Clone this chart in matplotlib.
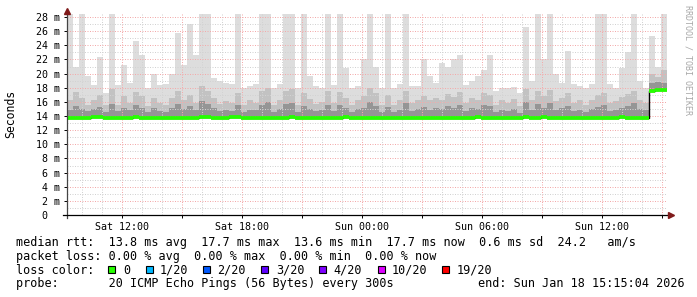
import matplotlib
matplotlib.use("Agg")
import matplotlib.pyplot as plt
import matplotlib.dates as mdates
from matplotlib.patches import Rectangle
from matplotlib.ticker import MultipleLocator, FuncFormatter
import numpy as np
import pandas as pd

plt.rcParams['font.family'] = ['DejaVu Sans Mono']

# 30 hour window, one smoke column per 18 minutes
start = pd.Timestamp("2026-01-17 09:15:04")
end = pd.Timestamp("2026-01-18 15:15:04")
step = pd.Timedelta(minutes=18)

# top of the lightest smoke (max ping), ms
light_top = [28.4, 21.0, 28.4, 19.6, 18.4, 22.4, 17.2, 28.4, 18.4, 21.2,
             18.7, 24.6, 22.7, 18.0, 20.0, 18.4, 18.5, 20.0, 25.7, 21.2,
             27.0, 22.7, 28.4, 28.4, 19.4, 19.0, 18.7, 18.5, 28.4, 18.0,
             18.2, 18.5, 28.4, 28.4, 18.0, 18.5, 28.4, 28.4, 18.0, 28.4,
             19.6, 18.2, 18.0, 28.4, 18.4, 28.4, 20.8, 18.0, 18.3, 22.0,
             28.4, 21.0, 18.0, 28.4, 18.0, 18.5, 28.4, 18.3, 18.2, 22.0,
             19.6, 18.7, 21.5, 21.0, 22.0, 22.7, 18.4, 18.9, 19.6, 20.5,
             22.7, 17.5, 18.0, 18.0, 18.1, 17.2, 26.6, 19.0, 28.4, 22.0,
             28.4, 20.0, 18.6, 23.2, 18.5, 18.2, 18.0, 18.5, 28.4, 28.4,
             18.5, 18.0, 20.8, 23.0, 28.4, 19.0, 18.0, 25.3, 21.0, 28.4]

# top of the medium grey smoke
mid_top = [16.2, 17.4, 16.5, 15.6, 16.3, 17.0, 15.5, 17.8, 15.6, 16.9,
           15.8, 17.4, 16.8, 15.4, 16.6, 15.9, 15.6, 16.5, 17.6, 16.2,
           17.0, 15.8, 18.2, 17.6, 16.6, 15.7, 16.1, 15.8, 17.3, 15.5,
           16.2, 15.9, 17.5, 18.0, 15.6, 16.3, 17.5, 17.8, 15.6, 17.2,
           16.4, 15.7, 16.0, 17.5, 15.8, 17.4, 16.6, 15.5, 16.3, 16.8,
           18.0, 17.2, 15.6, 17.0, 15.5, 16.2, 17.6, 15.8, 16.3, 16.9,
           16.2, 16.6, 16.3, 17.1, 16.7, 17.4, 15.8, 16.6, 16.3, 17.2,
           17.0, 15.6, 16.2, 15.8, 16.4, 15.4, 17.8, 16.2, 17.6, 16.8,
           17.7, 16.1, 16.5, 17.2, 15.8, 16.2, 15.6, 16.3, 17.0, 17.3,
           15.8, 16.1, 16.7, 17.1, 17.6, 16.2, 15.9, 20.0, 19.5, 20.5]

# top of the dark smoke near the median
dark_top = [14.9, 15.4, 15.0, 14.7, 15.0, 15.3, 14.6, 15.7, 14.7, 15.2,
            14.8, 15.6, 15.2, 14.5, 15.1, 14.7, 14.6, 15.1, 15.7, 15.0,
            15.4, 14.8, 16.1, 15.7, 15.1, 14.7, 14.9, 14.7, 15.5, 14.5,
            14.9, 14.8, 15.6, 16.0, 14.6, 15.0, 15.7, 15.8, 14.5, 15.4,
            15.0, 14.7, 14.8, 15.6, 14.7, 15.6, 15.1, 14.5, 15.0, 15.2,
            16.0, 15.4, 14.6, 15.3, 14.5, 14.9, 15.8, 14.7, 15.0, 15.3,
            14.9, 15.1, 15.0, 15.4, 15.2, 15.6, 14.7, 15.1, 15.0, 15.5,
            15.4, 14.5, 14.9, 14.7, 15.0, 14.4, 16.0, 14.9, 15.7, 15.2,
            15.8, 14.9, 15.1, 15.4, 14.7, 14.9, 14.5, 15.0, 15.3, 15.5,
            14.7, 14.9, 15.2, 15.4, 15.8, 15.0, 14.8, 18.6, 18.8, 18.7]

median_rtt = [13.7, 13.7, 13.7, 13.7, 13.8, 13.9, 13.7, 13.7, 13.7, 13.7,
              13.7, 13.8, 13.7, 13.7, 13.7, 13.7, 13.7, 13.7, 13.7, 13.7,
              13.7, 13.7, 13.9, 13.8, 13.7, 13.7, 13.7, 13.8, 13.8, 13.7,
              13.7, 13.7, 13.7, 13.7, 13.7, 13.7, 13.7, 13.8, 13.7, 13.7,
              13.7, 13.7, 13.7, 13.7, 13.7, 13.7, 13.8, 13.7, 13.7, 13.7,
              13.7, 13.7, 13.7, 13.7, 13.7, 13.7, 13.7, 13.7, 13.7, 13.7,
              13.7, 13.7, 13.7, 13.7, 13.7, 13.7, 13.7, 13.7, 13.8, 13.7,
              13.7, 13.7, 13.7, 13.7, 13.7, 13.7, 13.8, 13.7, 13.7, 13.8,
              13.7, 13.7, 13.7, 13.7, 13.7, 13.7, 13.7, 13.7, 13.7, 13.7,
              13.7, 13.7, 13.8, 13.7, 13.7, 13.7, 13.7, 17.6, 17.7, 17.7]

loss_labels = ['0', '1/20', '2/20', '3/20', '4/20', '10/20', '19/20']
loss_colors = ['#26ff00', '#00b8ff', '#0059ff', '#5e00ff', '#7e00ff', '#dd00ff', '#ff0000']

stats_lines = [
    "median rtt:  13.8 ms avg  17.7 ms max  13.6 ms min  17.7 ms now  0.6 ms sd  24.2   am/s",
    "packet loss: 0.00 % avg  0.00 % max  0.00 % min  0.00 % now",
]
probe_text = "probe:       20 ICMP Echo Pings (56 Bytes) every 300s"
end_text = "end: Sun Jan 18 15:15:04 2026"

W, H = 697, 297
fig = plt.figure(figsize=(W / 100, H / 100), dpi=100)
ax = fig.add_axes([67 / W, 82 / H, 600 / W, 202 / H])

times = pd.date_range(start, periods=len(median_rtt), freq=step)
x = mdates.date2num(times)
w = step / pd.Timedelta(days=1)
med = np.array(median_rtt)

# smoke layers
ax.bar(x, np.array(light_top) - med, bottom=med, width=w, align='edge', color='#dddddd', lw=0, zorder=1)
ax.bar(x, np.array(mid_top) - med, bottom=med, width=w, align='edge', color='#c2c2c2', lw=0, zorder=1)
ax.bar(x, np.array(dark_top) - med, bottom=med, width=w, align='edge', color='#959595', lw=0, zorder=1)

# median line: black steps under green horizontal pieces
ax.step(np.append(x, x[-1] + w), np.append(med, med[-1]), where='post', color='black', lw=1.0, zorder=3)
ax.hlines(med, x, x + w, colors=loss_colors[0], lw=2.7, zorder=4)

ax.set_xlim(mdates.date2num(start), mdates.date2num(end))
ax.set_ylim(0, 28.57)

ax.xaxis.set_major_locator(mdates.HourLocator(byhour=range(0, 24, 3)))
ax.xaxis.set_minor_locator(mdates.HourLocator())


def xfmt(v, pos):
    d = mdates.num2date(v)
    return d.strftime('%a %H:%M') if d.hour % 6 == 0 else ''


ax.xaxis.set_major_formatter(FuncFormatter(xfmt))
ax.yaxis.set_major_locator(MultipleLocator(2))
ax.yaxis.set_minor_locator(MultipleLocator(1))
ax.yaxis.set_major_formatter(FuncFormatter(lambda v, p: '0  ' if v == 0 else f'{v:.0f} m'))

ax.set_axisbelow(False)
ax.grid(which='minor', color='#d2d2d2', linestyle=(0, (1, 1.5)), linewidth=0.72)
ax.grid(which='major', color='#f3aaaa', linestyle=(0, (1, 1.5)), linewidth=0.72)

ax.tick_params(axis='both', which='major', labelsize=7.2, length=2, width=0.7, color='black')
ax.tick_params(axis='x', which='major', pad=3)
ax.tick_params(axis='y', which='major', pad=3)
ax.tick_params(which='minor', length=0)

for s in ax.spines.values():
    s.set_visible(False)

# axis lines with arrow heads
ax.plot([0, 0], [-0.015, 1.01], transform=ax.transAxes, color='#444444', lw=0.9, clip_on=False, zorder=5)
ax.plot([-0.007, 1.0], [0, 0], transform=ax.transAxes, color='black', lw=0.9, clip_on=False, zorder=5)
ax.plot([0], [1.012], marker='^', ms=3.8, color='#7f1a1a', transform=ax.transAxes, clip_on=False, zorder=6)
ax.plot([1.006], [0], marker='>', ms=3.8, color='#7f1a1a', transform=ax.transAxes, clip_on=False, zorder=6)

fig.text(11 / W, 1 - 114 / H, 'Seconds', rotation=90, ha='center', va='center', fontsize=8.3)
fig.text(688 / W, 1 - 5 / H, 'RRDTOOL / TOBI OETIKER', rotation=270, ha='center', va='top',
         fontsize=6, color='#a8a8a8')

# legend block
fs = 8.5
fig.text(16 / W, 1 - 246 / H, stats_lines[0], fontsize=fs, va='baseline')
fig.text(16 / W, 1 - 260 / H, stats_lines[1], fontsize=fs, va='baseline')
fig.text(16 / W, 1 - 273.5 / H, 'loss color:', fontsize=fs, va='baseline')
box_x = [108, 146, 203, 261, 319, 378, 442]
text_x = [123, 160, 217, 276, 333, 392, 457]
for lab, col, bx, tx in zip(loss_labels, loss_colors, box_x, text_x):
    fig.add_artist(Rectangle((bx / W, 1 - 273 / H), 7 / W, 7.5 / H, transform=fig.transFigure,
                             facecolor=col, edgecolor='black', lw=0.8))
    fig.text(tx / W, 1 - 273.5 / H, lab, fontsize=fs, va='baseline')
fig.text(16 / W, 1 - 287 / H, probe_text, fontsize=fs, va='baseline')
fig.text(478 / W, 1 - 287 / H, end_text, fontsize=fs, va='baseline')

fig.savefig('out.png', dpi=100, facecolor='white')
